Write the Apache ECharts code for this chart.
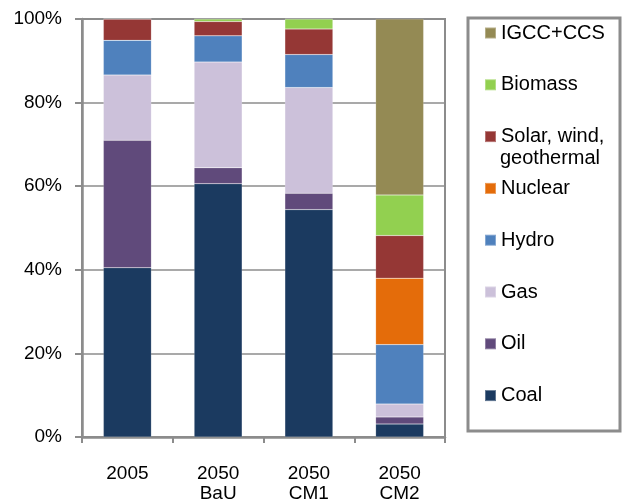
<!DOCTYPE html>
<html>
<head>
<meta charset="utf-8">
<script src="https://cdn.jsdelivr.net/npm/echarts@6/dist/echarts.min.js"></script>
<style>
html,body{margin:0;padding:0;background:#fff;}
#c{width:622px;height:504px;}
</style>
</head>
<body>
<div id="c"></div>
<script>
var categories = ['2005', '2050\nBaU', '2050\nCM1', '2050\nCM2'];
var coal    = [40.5, 60.6, 54.4, 3.1];
var oil     = [30.5, 3.8, 3.9, 1.7];
var gas     = [15.6, 25.3, 25.3, 3.1];
var hydro   = [8.3, 6.3, 7.9, 14.2];
var nuclear = [0, 0, 0, 15.9];
var solar   = [5.1, 3.4, 6.1, 10.2];
var biomass = [0, 0.6, 2.4, 9.7];
var igcc    = [0, 0, 0, 42.1];
var yTicks  = [0, 20, 40, 60, 80, 100];

var FONT = "'Liberation Sans', Arial, sans-serif";
var seriesDefs = [
  {name: 'Coal', data: coal, color: '#1b3a60'},
  {name: 'Oil', data: oil, color: '#604a7b'},
  {name: 'Gas', data: gas, color: '#ccc1da'},
  {name: 'Hydro', data: hydro, color: '#4f81bd'},
  {name: 'Nuclear', data: nuclear, color: '#e46c0a'},
  {name: 'Solar, wind, geothermal', data: solar, color: '#953735'},
  {name: 'Biomass', data: biomass, color: '#92d050'},
  {name: 'IGCC+CCS', data: igcc, color: '#948a54'}
];
var legendOrder = ['IGCC+CCS', 'Biomass', 'Solar, wind, geothermal', 'Nuclear', 'Hydro', 'Gas', 'Oil', 'Coal'];

var legends = legendOrder.map(function (name, i) {
  var cy = 33 + i * 51.8;
  return {
    show: true,
    orient: 'vertical',
    left: 484,
    top: cy - 11,
    padding: 0,
    itemWidth: 11,
    itemHeight: 11,
    selectedMode: false,
    icon: 'rect',
    data: [name],
    formatter: function (n) { return n === 'Solar, wind, geothermal' ? 'Solar, wind,' : n; },
    textStyle: {fontFamily: FONT, fontSize: 20, lineHeight: 22, color: '#000'}
  };
});

var chart = echarts.init(document.getElementById('c'), null, {renderer: 'canvas'});
chart.setOption({
  animation: false,
  backgroundColor: '#fff',
  grid: {left: 82, right: 177, top: 19, bottom: 65, show: true, borderColor: '#8c8c8c', borderWidth: 2, backgroundColor: 'transparent'},
  legend: legends,
  xAxis: {
    type: 'category',
    data: categories,
    axisLine: {lineStyle: {color: '#8c8c8c', width: 2.5}},
    axisTick: {show: true, length: 6, lineStyle: {color: '#8c8c8c', width: 2}},
    axisLabel: {fontFamily: FONT, fontSize: 19, lineHeight: 20, color: '#000', margin: 27}
  },
  yAxis: {
    type: 'value',
    min: yTicks[0],
    max: yTicks[yTicks.length - 1],
    interval: yTicks[1] - yTicks[0],
    axisLine: {show: true, lineStyle: {color: '#8c8c8c', width: 2.5}},
    axisTick: {show: true, length: 7, lineStyle: {color: '#8c8c8c', width: 2}},
    splitLine: {lineStyle: {color: '#8c8c8c', width: 1.5}},
    axisLabel: {fontFamily: FONT, fontSize: 19, color: '#000', margin: 20, formatter: '{value}%'}
  },
  series: seriesDefs.map(function (s) {
    return {
      name: s.name,
      type: 'bar',
      stack: 'total',
      barWidth: 48,
      data: s.data,
      itemStyle: {color: s.color, borderColor: 'rgba(255,255,255,0.3)', borderWidth: 0.5},
      emphasis: {disabled: true}
    };
  }),
  graphic: [
    {type: 'rect', shape: {x: 468, y: 18, width: 152, height: 413}, style: {fill: 'none', stroke: '#8c8c8c', lineWidth: 3}, silent: true},
    {type: 'text', left: 500, top: 148, style: {text: 'geothermal', font: '20px ' + FONT, fill: '#000'}, silent: true}
  ]
});
</script>
</body>
</html>
